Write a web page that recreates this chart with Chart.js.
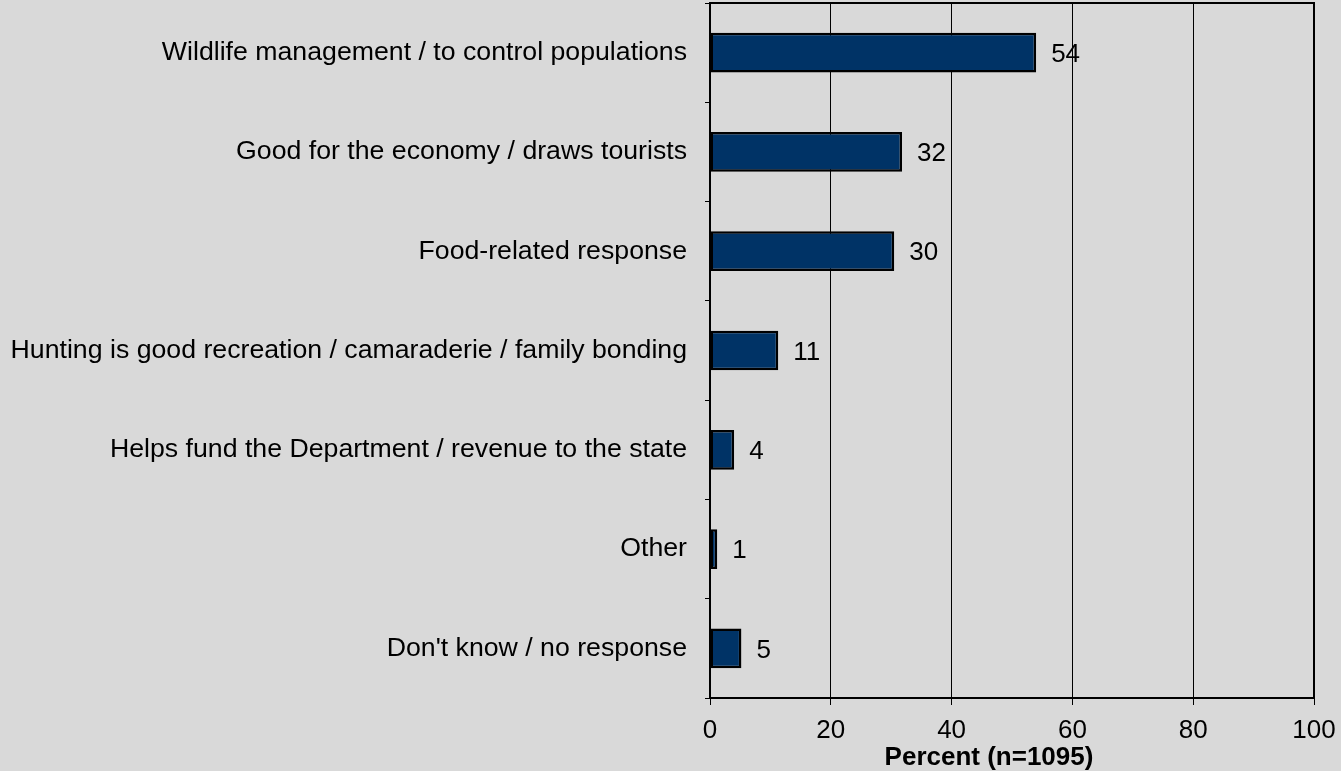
<!DOCTYPE html>
<html>
<head>
<meta charset="utf-8">
<script src="https://cdn.jsdelivr.net/npm/chart.js@4/dist/chart.umd.min.js"></script>
<style>
  html, body { margin: 0; padding: 0; background: #d9d9d9; }
  #wrap { width: 1341px; height: 771px; }
</style>
</head>
<body>
<div id="wrap"><canvas id="chart"></canvas></div>
<script>
const categories = [
  "Wildlife management / to control populations",
  "Good for the economy / draws tourists",
  "Food-related response",
  "Hunting is good recreation / camaraderie / family bonding",
  "Helps fund the Department / revenue to the state",
  "Other",
  "Don't know / no response"
];
const percents = [54, 31.8, 30.5, 11.3, 4, 1.2, 5.2];
const shownLabels = ["54", "32", "30", "11", "4", "1", "5"];
const xTicks = [0, 20, 40, 60, 80, 100];
const xTitle = 'Percent (n=1095)';

const fontFamily = "'Liberation Sans', Arial, sans-serif";

// value labels to the right of each bar
const valueLabels = {
  id: 'valueLabels',
  afterDatasetsDraw(chart) {
    const c = chart.ctx;
    const meta = chart.getDatasetMeta(0);
    c.save();
    c.font = '26px ' + fontFamily;
    c.fillStyle = '#000';
    c.textBaseline = 'middle';
    c.textAlign = 'left';
    meta.data.forEach((bar, i) => {
      c.fillText(shownLabels[i], bar.x + 15, bar.y + 2);
    });
    c.restore();
  }
};

// frame on top and right of plot, plus the x title (sits a bit left of centre)
const frame = {
  id: 'frame',
  afterDraw(chart) {
    const a = chart.chartArea, c = chart.ctx;
    c.save();
    c.strokeStyle = '#000';
    c.lineWidth = 2;
    c.beginPath();
    c.moveTo(a.left, a.top);
    c.lineTo(a.right, a.top);
    c.lineTo(a.right, a.bottom);
    c.stroke();
    c.font = 'bold 26px ' + fontFamily;
    c.fillStyle = '#000';
    c.textAlign = 'center';
    c.textBaseline = 'middle';
    c.fillText(xTitle, (a.left + a.right) / 2 - 23, chart.scales.x.bottom - 13);
    c.restore();
  }
};

new Chart(document.getElementById('chart').getContext('2d'), {
  type: 'bar',
  data: {
    labels: categories,
    datasets: [{
      data: percents,
      backgroundColor: '#003366',
      borderColor: '#000',
      borderWidth: 2.5,
      borderSkipped: false,
      categoryPercentage: 1,
      barPercentage: 0.4
    }]
  },
  plugins: [valueLabels, frame],
  options: {
    indexAxis: 'y',
    responsive: true,
    maintainAspectRatio: false,
    animation: false,
    layout: { padding: { left: 0, right: 27, top: 3, bottom: 0 } },
    plugins: {
      legend: { display: false },
      tooltip: { enabled: false }
    },
    scales: {
      x: {
        min: 0,
        max: 100,
        afterBuildTicks: (s) => { s.ticks = xTicks.map(v => ({ value: v })); },
        afterFit: (s) => { s.height = 73; s.paddingLeft = 0; s.paddingRight = 0; },
        ticks: {
          color: '#000',
          font: { family: fontFamily, size: 26, lineHeight: 1 },
          padding: 13
        },
        grid: { color: '#000', lineWidth: 1, tickLength: 7 },
        border: { color: '#000', width: 2 }
      },
      y: {
        afterFit: (s) => { s.width = 710; s.paddingTop = 0; s.paddingBottom = 0; },
        ticks: {
          color: '#000',
          font: { family: fontFamily, size: 26.7 },
          padding: 18
        },
        grid: { drawOnChartArea: false, color: '#000', tickLength: 5, offset: true },
        border: { color: '#000', width: 2 }
      }
    }
  }
});
</script>
</body>
</html>
